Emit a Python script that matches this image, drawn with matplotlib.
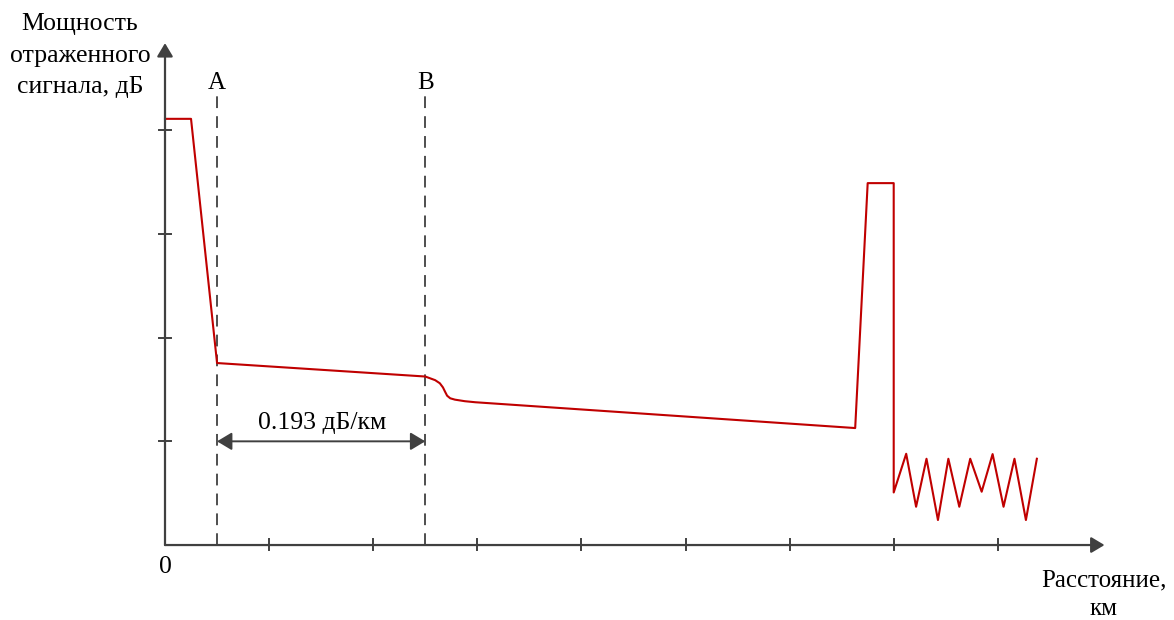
import matplotlib.pyplot as plt

plt.rcParams['font.family'] = ['Liberation Serif', 'DejaVu Serif']

# reflectogram trace (distance in ticks units, power in ticks units)
trace_x = [0.0, 0.5, 1.0, 5.0, 5.19, 5.28, 5.34, 5.38, 5.42, 5.48, 5.57, 5.76, 5.96, 13.26, 13.50, 14.0, 14.0,
           14.24, 14.43, 14.63, 14.85, 15.05, 15.26, 15.47, 15.69, 15.90, 16.11, 16.32, 16.54, 16.75]
trace_y = [4.11, 4.11, 1.755, 1.625, 1.59, 1.56, 1.52, 1.479, 1.44, 1.415, 1.402, 1.387, 1.377, 1.128, 3.49, 3.49,
           0.507, 0.880, 0.369, 0.832, 0.241, 0.832, 0.369, 0.832, 0.514, 0.877, 0.369, 0.832, 0.241, 0.832]

x_ticks = [2, 4, 6, 8, 10, 12, 14, 16]
y_ticks = [1, 2, 3, 4]
markers = {'A': 1.0, 'B': 5.0}
slope_label = '0.193 дБ/км'

gray = '#404040'
red = '#C00000'

fig = plt.figure(figsize=(11.74, 6.2), dpi=100)
ax = fig.add_axes([0, 0, 1, 1])
ax.set_xlim(-3.170, 19.385)
ax.set_ylim(-0.723, 5.256)
ax.axis('off')

head = '-|>,head_length=0.67,head_width=0.4'
# axes with arrows
ax.annotate('', xy=(18.05, 0), xytext=(0, 0),
            arrowprops=dict(arrowstyle=head, color=gray, lw=1.6,
                            shrinkA=0, shrinkB=0, mutation_scale=12))
ax.annotate('', xy=(0, 4.84), xytext=(0, 0),
            arrowprops=dict(arrowstyle=head, color=gray, lw=1.6,
                            shrinkA=0, shrinkB=0, mutation_scale=12))

for t in x_ticks:
    ax.plot([t, t], [-0.05, 0.06], color=gray, lw=1.4)
for t in y_ticks:
    ax.plot([-0.12, 0.12], [t, t], color=gray, lw=1.4)

# dashed markers
for name, xm in markers.items():
    ax.plot([xm, xm], [0, 4.36], color=gray, lw=1.3, ls=(0, (6.5, 4.5)))
    ax.text(xm, 4.46, name, ha='center', va='center', fontsize=18)

# double arrow between A and B
ax.annotate('', xy=(markers['B'], 1.0), xytext=(markers['A'], 1.0),
            arrowprops=dict(arrowstyle='<|-|>,head_length=0.75,head_width=0.45', color=gray, lw=1.4,
                            shrinkA=0, shrinkB=0, mutation_scale=12))
ax.text(3.02, 1.18, slope_label, ha='center', va='center', fontsize=18.5)

ax.plot(trace_x, trace_y, color=red, lw=1.5)

ax.text(0, -0.21, '0', ha='center', va='center', fontsize=18.5)
ax.text(-1.633, 4.72, 'Мощность\nотраженного\nсигнала, дБ', ha='center', va='center',
        fontsize=18.5, linespacing=1.55)
ax.text(18.04, -0.48, 'Расстояние,\nкм', ha='center', va='center', fontsize=18, linespacing=1.35)

fig.savefig('out.png', dpi=100)
